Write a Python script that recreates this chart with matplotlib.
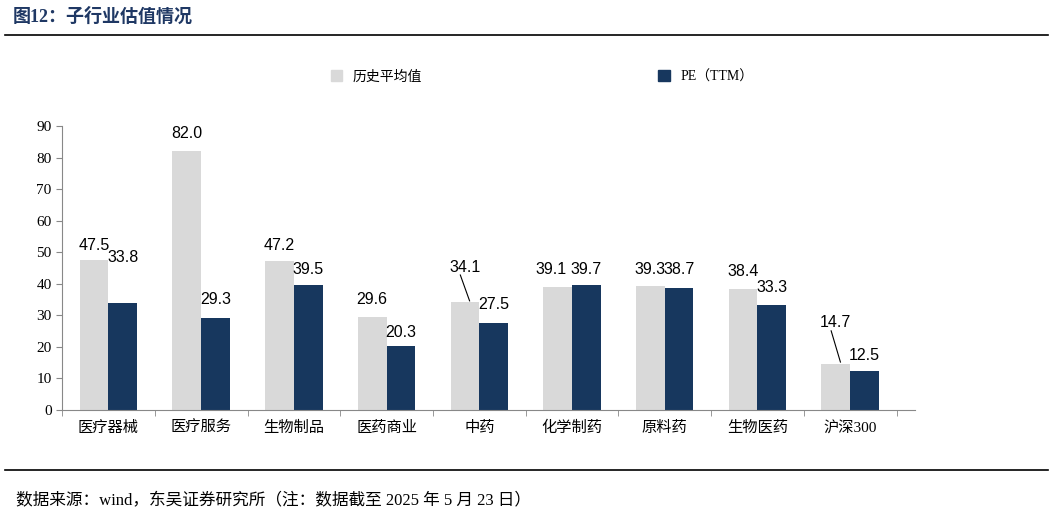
import matplotlib
matplotlib.use("Agg")
import matplotlib.pyplot as plt
import numpy as np
from matplotlib.patches import Patch

categories = ["医疗器械", "医疗服务", "生物制品", "医药商业", "中药", "化学制药", "原料药", "生物医药", "沪深300"]
hist_avg = [47.5, 82.0, 47.2, 29.6, 34.1, 39.1, 39.3, 38.4, 14.7]
pe_ttm = [33.8, 29.3, 39.5, 20.3, 27.5, 39.7, 38.7, 33.3, 12.5]
# label y positions (data units)
hist_lab_y = [52.3, 87.8, 52.3, 34.9, 45.3, 44.4, 44.4, 44.0, 27.6]
pe_lab_y = [48.2, 34.9, 44.4, 24.5, 33.3, 44.4, 44.4, 38.7, 17.4]

FS = ['Liberation Serif', 'Noto Sans CJK SC']
GRAY = '#d9d9d9'
NAVY = '#17375e'

fig = plt.figure(figsize=(10.53, 5.19), dpi=100)
ax = fig.add_axes([0.059, 0.21, 0.81, 0.547])
x = np.arange(len(categories))
w = 0.31
ax.bar(x - w/2, hist_avg, w, color=GRAY)
ax.bar(x + w/2, pe_ttm, w, color=NAVY)
for i in range(len(x)):
    dx = -0.07 if i == 5 else 0
    ax.text(x[i] - w/2 + dx, hist_lab_y[i], f"{hist_avg[i]:.1f}", ha='center', va='center',
            fontsize=11.5, family='Liberation Sans')
    ax.text(x[i] + w/2, pe_lab_y[i], f"{pe_ttm[i]:.1f}", ha='center', va='center',
            fontsize=11.5, family='Liberation Sans')
    if i in (4, 8):
        ax.plot([x[i] - w/2 + 0.05, x[i] - w/2 - 0.05], [hist_avg[i] + 0.5, hist_lab_y[i] - 2.5],
                color='black', lw=0.8)
ax.set_xlim(-0.5, len(x) - 0.3)
ax.set_ylim(0, 90)
ax.set_yticks(range(0, 91, 10))
ax.set_xticks(x)
ax.set_xticklabels(categories, family=FS, fontsize=11)
ax.set_xticks(np.arange(-0.5, len(x), 1), minor=True)
ax.tick_params(axis='x', which='major', length=0, pad=8)
ax.tick_params(axis='x', which='minor', length=4, color='#888888')
ax.tick_params(axis='y', length=4, color='#888888', labelsize=11)
for lab in ax.get_yticklabels():
    lab.set_family('Liberation Serif')
for s in ['top', 'right']:
    ax.spines[s].set_visible(False)
for s in ['left', 'bottom']:
    ax.spines[s].set_color('#888888')

fig.legend(handles=[Patch(color=GRAY, label='历史平均值'), Patch(color=NAVY, label='PE（TTM）')],
           loc='center', bbox_to_anchor=(0.515, 0.852), ncol=2, frameon=False,
           columnspacing=17, handlelength=0.8, handleheight=0.8, prop={'family': FS, 'size': 10})

fig.text(0.012, 0.968, "图12：子行业估值情况", family=FS, fontsize=13, weight='bold',
         color='#1f3864', va='center')
fig.add_artist(plt.Line2D([0.005, 0.995], [0.933, 0.933], color='black', lw=1.2))
fig.add_artist(plt.Line2D([0.005, 0.995], [0.094, 0.094], color='black', lw=1.2))
fig.text(0.015, 0.035, "数据来源：wind，东吴证券研究所（注：数据截至 2025 年 5 月 23 日）",
         family=FS, fontsize=12, va='center')
fig.savefig("out.png", dpi=100)
